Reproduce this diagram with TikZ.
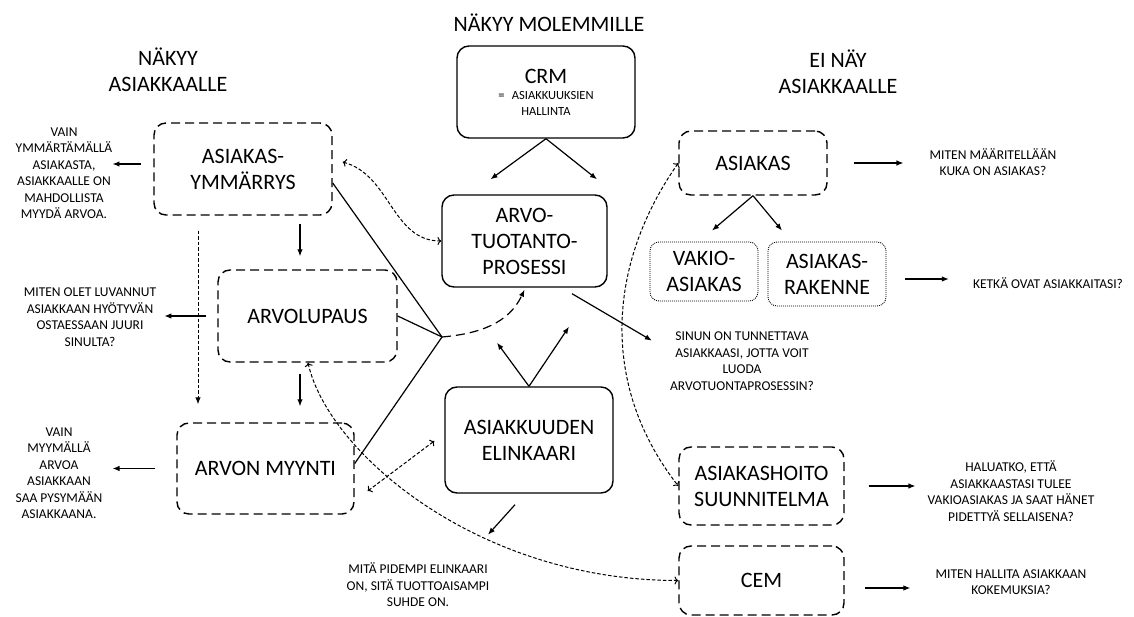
\documentclass[tikz,border=0pt]{standalone}
\usepackage{fontspec}
\setmainfont{Carlito}
\usetikzlibrary{arrows.meta, calc}
\newcommand{\boxfont}{\fontsize{22}{26}\selectfont}
\newcommand{\notefont}{\fontsize{13.5}{16.5}\selectfont}

\begin{document}
\begin{tikzpicture}[x=1pt, y=1pt,
  dbox/.style={draw, line width=1.4pt, dash pattern=on 9pt off 5pt, rounded corners=12pt, align=center, font=\boxfont, inner sep=0pt},
  sbox/.style={dbox, solid},
  obox/.style={dbox, line width=0.9pt, dash pattern=on 0.9pt off 1.1pt, rounded corners=9pt},
  note/.style={align=center, font=\notefont, inner sep=0pt},
  title/.style={align=center, font=\boxfont, inner sep=0pt},
  arr/.style={-{Latex[length=7pt,width=5.5pt]}, line width=1.2pt},
  darr/.style={arr, line width=1pt, dash pattern=on 3.5pt off 2pt}]
\useasboundingbox (0,0) rectangle (1134,-617);

\node[title] (tleft) at (168,-70) {NÄKYY\\ASIAKKAALLE};
\node[title] (tmid) at (549,-23) {NÄKYY MOLEMMILLE};
\node[title] (tright) at (838,-72) {EI NÄY\\ASIAKKAALLE};

\node[dbox, minimum width=178, minimum height=92] (ymm) at (243,-169) {ASIAKAS-\\YMMÄRRYS};
\node[dbox, minimum width=179, minimum height=92] (lupaus) at (307.5,-316) {ARVOLUPAUS};
\node[dbox, minimum width=177, minimum height=91] (myynti) at (265.5,-468.5) {ARVON MYYNTI};

\node[sbox, text width=178, minimum height=92] (crm) at (546,-92)
  {\centering CRM\par\fontsize{12.5}{16}\selectfont = ASIAKKUUKSIEN\par HALLINTA\par};
\node[sbox, minimum width=165, minimum height=92] (tuot) at (524.5,-241) {ARVO-\\TUOTANTO-\\PROSESSI};
\node[sbox, minimum width=168, minimum height=106] (elin) at (529,-440) {ASIAKKUUDEN\\ELINKAARI};

\node[dbox, minimum width=148, minimum height=64] (asiakas) at (753,-163) {ASIAKAS};
\node[obox, minimum width=108, minimum height=59] (vakio) at (704,-271.5) {VAKIO-\\ASIAKAS};
\node[obox, minimum width=118, minimum height=64] (rakenne) at (827,-274) {ASIAKAS-\\RAKENNE};
\node[dbox, minimum width=165, minimum height=78] (hoito) at (761.5,-486) {ASIAKASHOITO\\SUUNNITELMA};
\node[dbox, minimum width=165, minimum height=69] (cem) at (761.5,-580.5) {CEM};

\node[note] (n1) at (64,-173) {VAIN\\YMMÄRTÄMÄLLÄ\\ASIAKASTA,\\ASIAKKAALLE ON\\MAHDOLLISTA\\MYYDÄ ARVOA.};
\node[note] (n2) at (90,-317) {MITEN OLET LUVANNUT\\ASIAKKAAN HYÖTYVÄN\\OSTAESSAAN JUURI\\SINULTA?};
\node[note] (n3) at (59,-473) {VAIN\\MYYMÄLLÄ\\ARVOA\\ASIAKKAAN\\SAA PYSYMÄÄN\\ASIAKKAANA.};
\node[note] (n4) at (418,-585) {MITÄ PIDEMPI ELINKAARI\\ON, SITÄ TUOTTOAISAMPI\\SUHDE ON.};
\node[note] (n5) at (742,-361) {SINUN ON TUNNETTAVA\\ASIAKKAASI, JOTTA VOIT\\LUODA\\ARVOTUONTAPROSESSIN?};
\node[note] (n6) at (993,-162) {MITEN MÄÄRITELLÄÄN\\KUKA ON ASIAKAS?};
\node[note] (n7) at (1048,-283) {KETKÄ OVAT ASIAKKAITASI?};
\node[note] (n8) at (1011,-491) {HALUATKO, ETTÄ\\ASIAKKAASTASI TULEE\\VAKIOASIAKAS JA SAAT HÄNET\\PIDETTYÄ SELLAISENA?};
\node[note] (n9) at (1011,-582) {MITEN HALLITA ASIAKKAAN\\KOKEMUKSIA?};

\coordinate (join) at (442,-337);

\draw[arr] ([shift={(-12,5)}]ymm.west) coordinate (a1) -- (n1.east |- a1);
\draw[arr] ([xshift=-11]lupaus.west) coordinate (a2) -- ([xshift=8]n2.east |- a2);
\draw[arr] ([xshift=-21]myynti.west) coordinate (a3) -- ([xshift=10]n3.east |- a3);

\draw[arr] ([shift={(57,-8)}]ymm.south) coordinate (d1) -- ([yshift=13]d1 |- lupaus.north);
\draw[arr] ([shift={(-7.5,-11)}]lupaus.south) coordinate (d2) -- ([yshift=16]d2 |- myynti.north);
\draw[darr] ([shift={(-45,-15)}]ymm.south) coordinate (v1) -- ([yshift=18]v1 |- myynti.north);

\draw[line width=1.2pt] ([yshift=-14]ymm.east) -- (join);
\draw[line width=1.2pt] (lupaus.east) -- (join);
\draw[line width=1.2pt] (join) -- ([yshift=5]myynti.east);
\draw[arr, dash pattern=on 9pt off 5pt] (join) to[out=5, in=-115] ([yshift=-2]tuot.south);

\draw[arr] (crm.south) -- ([shift={(-34,15)}]tuot.north);
\draw[arr] (crm.south) -- ([shift={(72.5,15)}]tuot.north);
\draw[arr] (elin.north) -- ([shift={(-27.5,-55)}]tuot.south);
\draw[arr] (elin.north) -- ([shift={(44.5,-39)}]tuot.south);
\draw[arr] ([shift={(-14,-11)}]elin.south) coordinate (e1) -- ([shift={(-27,-30)}]e1);
\draw[arr] ([shift={(47.5,-6)}]tuot.south) -- ([shift={(-18,-9)}]n5.north west);

\draw[darr, <->] ([shift={(10,7)}]ymm.east) to[out=-15, in=180] (tuot.west);
\draw[darr, <->] ([shift={(13,-22.5)}]myynti.east) -- ([shift={(-10,-1)}]elin.west);
\draw[darr, <->] ([xshift=0.5]lupaus.south) .. controls +(20,-90) and +(-200,0) .. (cem.west);
\draw[darr, <->] (asiakas.west) to[out=235, in=128] (hoito.west);

\draw[arr] ([xshift=26]asiakas.east) coordinate (r1) -- ([xshift=-26]n6.west |- r1);
\draw[arr] (asiakas.south) -- ([shift={(8,11)}]vakio.north);
\draw[arr] (asiakas.south) -- ([shift={(-45,11)}]rakenne.north);
\draw[arr] ([shift={(19,-5)}]rakenne.east) coordinate (r2) -- ([xshift=-24]n7.west |- r2);
\draw[arr] ([xshift=24]hoito.east) coordinate (r3) -- ([xshift=-12]n8.west |- r3);
\draw[arr] ([shift={(20,-7.5)}]cem.east) coordinate (r4) -- ([xshift=-25]n9.west |- r4);
\end{tikzpicture}
\end{document}
